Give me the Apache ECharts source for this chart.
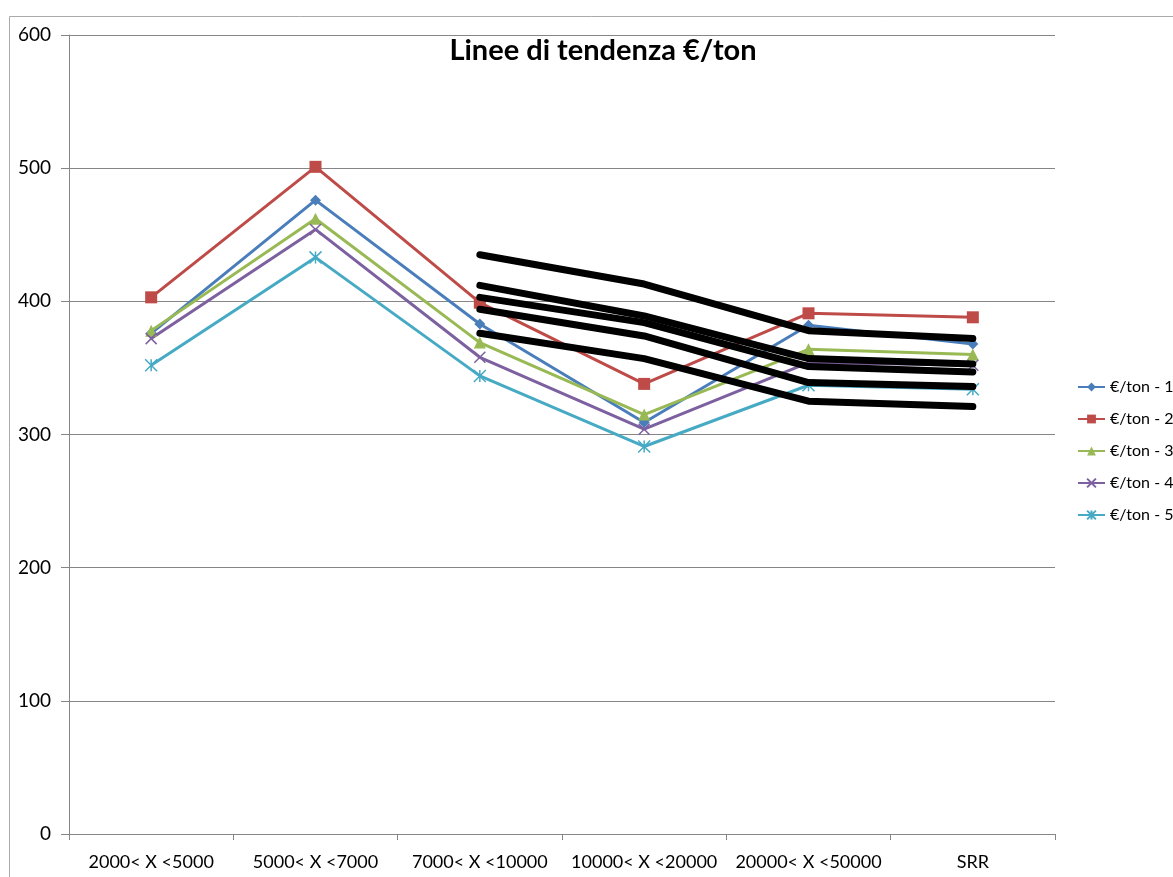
<!DOCTYPE html>
<html>
<head>
<meta charset="utf-8">
<script src="https://cdn.jsdelivr.net/npm/echarts@6/dist/echarts.min.js"></script>
<style>
  html, body { margin: 0; padding: 0; background: #fff; }
  #chart { width: 1173px; height: 877px; }
</style>
</head>
<body>
<div id="chart"></div>
<script>
  const categories = ['2000< X <5000', '5000< X <7000', '7000< X <10000', '10000< X <20000', '20000< X <50000', 'SRR'];
  const seriesNames = ['€/ton - 1', '€/ton - 2', '€/ton - 3', '€/ton - 4', '€/ton - 5'];
  const ton1 = [376, 476, 383, 309, 382, 368];
  const ton2 = [403, 501, 399, 338, 391, 388];
  const ton3 = [378, 462, 369, 315, 364, 360];
  const ton4 = [372, 454, 358, 304, 354, 352];
  const ton5 = [352, 433, 344, 291, 337, 334];
  // linee di tendenza (solo dalla terza categoria)
  const trendA = ['-', '-', 435, 413, 378, 372];
  const trendB = ['-', '-', 412, 389, 357, 353];
  const trendC = ['-', '-', 403, 384, 351, 347];
  const trendD = ['-', '-', 394, 374, 339, 336];
  const trendE = ['-', '-', 376, 357, 325, 321];

  const colors = ['#4A7EBB', '#BE4B48', '#98B954', '#7D60A0', '#46AAC5'];
  const symbols = [
    'diamond',
    'rect',
    'triangle',
    'path://M0,0L10,10M10,0L0,10',
    'path://M0,0L10,10M10,0L0,10M5,0L5,10'
  ];
  const symbolSizes = [11, 12, 12, 11, 12];
  const values = [ton1, ton2, ton3, ton4, ton5];
  const trends = [trendA, trendB, trendC, trendD, trendE];

  const font = 'Lato, "Open Sans", sans-serif';
  const chart = echarts.init(document.getElementById('chart'));

  const series = values.map((data, i) => ({
    name: seriesNames[i],
    type: 'line',
    data: data,
    symbol: symbols[i],
    symbolSize: symbolSizes[i],
    showAllSymbol: true,
    lineStyle: { color: colors[i], width: 3 },
    itemStyle: { color: colors[i], borderColor: colors[i], borderWidth: i >= 3 ? 1.5 : 0 },
    z: 3
  }));
  trends.forEach((data, i) => {
    series.push({
      name: 'trend' + (i + 1),
      type: 'line',
      data: data,
      symbol: 'none',
      lineStyle: { color: '#000', width: 7, cap: 'round', join: 'round' },
      z: 4,
      silent: true
    });
  });

  chart.setOption({
    backgroundColor: '#fff',
    animation: false,
    color: colors,
    title: {
      text: 'Linee di tendenza €/ton',
      left: 598,
      textAlign: 'center',
      top: 31,
      textStyle: { fontFamily: font, fontSize: 29, fontWeight: 'bold', color: '#000' }
    },
    graphic: [{
      type: 'polyline',
      shape: { points: [[9.5, 900], [9.5, 16.5], [1200, 16.5]] },
      style: { stroke: '#AAAAAA', lineWidth: 1, fill: null }
    }],
    legend: {
      data: seriesNames,
      orient: 'vertical',
      left: 1077,
      top: 377,
      padding: 0,
      itemWidth: 27,
      itemHeight: 11,
      itemGap: 12,
      textStyle: { fontFamily: font, fontSize: 16, lineHeight: 20, color: '#000' }
    },
    grid: { left: 69, right: 118, top: 35, bottom: 43 },
    xAxis: {
      type: 'category',
      data: categories,
      boundaryGap: true,
      axisLine: { lineStyle: { color: '#868686', width: 1 } },
      axisTick: { show: true, length: 6, lineStyle: { color: '#868686' } },
      axisLabel: { interval: 0, fontFamily: font, fontSize: 18, color: '#000', margin: 19 }
    },
    yAxis: {
      type: 'value',
      min: 0,
      max: 600,
      interval: 100,
      axisLine: { show: true, lineStyle: { color: '#868686', width: 1 } },
      axisTick: { show: true, length: 8, inside: false, lineStyle: { color: '#868686' } },
      axisLabel: { fontFamily: font, fontSize: 19, color: '#000', margin: 18 },
      splitLine: { lineStyle: { color: '#868686', width: 1 } }
    },
    series: series
  });
</script>
</body>
</html>
